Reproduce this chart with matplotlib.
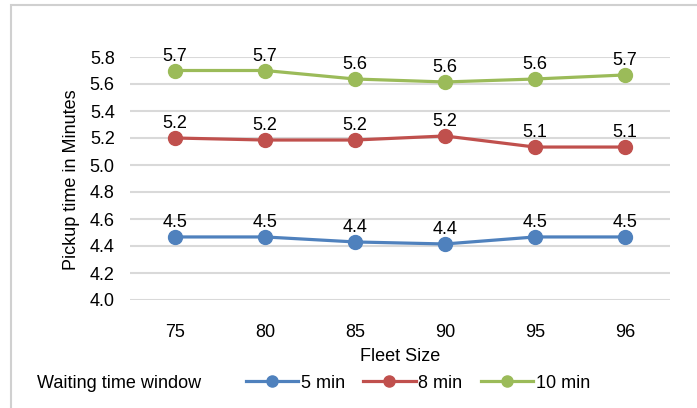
import numpy as np
import matplotlib.pyplot as plt
from matplotlib.patches import Rectangle

plt.rcParams['font.family'] = ['Liberation Sans', 'DejaVu Sans']

# Data
fleet_sizes = ['75', '80', '85', '90', '95', '96']
wait_5 = [4.467, 4.467, 4.430, 4.415, 4.467, 4.467]
wait_8 = [5.200, 5.185, 5.185, 5.215, 5.133, 5.133]
wait_10 = [5.700, 5.700, 5.637, 5.615, 5.637, 5.667]

series = [
    ('5 min', wait_5, '#4F81BD'),
    ('8 min', wait_8, '#C0504D'),
    ('10 min', wait_10, '#9BBB59'),
]

FS = 13

fig = plt.figure(figsize=(6.97, 4.08), dpi=100)
ax = fig.add_axes([130 / 697, 108 / 408, 540 / 697, 243 / 408])

x = np.arange(len(fleet_sizes))
for name, vals, col in series:
    ax.plot(x, vals, color=col, lw=2.3, marker='o', ms=10, label=name, zorder=3)
    for xi, v in zip(x, vals):
        ax.annotate(f'{v:.1f}', (xi, v), xytext=(0, 4), textcoords='offset points',
                    ha='center', va='bottom', fontsize=FS, color='black', zorder=4)

ax.set_xlim(-0.5, len(fleet_sizes) - 0.5)
ax.set_ylim(4.0, 5.8)
ticks = np.arange(4.0, 5.81, 0.2)
ax.set_yticks(ticks)
ax.set_yticklabels([f'{t:.1f}' for t in ticks])
ax.set_xticks(x)
ax.set_xticklabels(fleet_sizes)
ax.tick_params(axis='both', length=0, labelsize=FS)
ax.tick_params(axis='x', pad=17)
ax.tick_params(axis='y', pad=11)
ax.grid(axis='y', color='#D9D9D9', lw=1.5)
ax.set_axisbelow(True)
for s in ax.spines.values():
    s.set_visible(False)

ax.set_xlabel('Fleet Size', fontsize=FS, labelpad=5)
fig.text(72 / 697, 1 - 180 / 408, 'Pickup time in Minutes', rotation=90,
         ha='center', va='center', fontsize=FS)

# legend row with title on the left
fig.text(37 / 697, 1 - 383 / 408, 'Waiting time window', ha='left', va='center', fontsize=FS)
fig.legend(loc='center left', bbox_to_anchor=(246 / 697, 1 - 383 / 408), ncol=3,
           frameon=False, fontsize=FS, handlelength=2.9, handletextpad=0.15,
           columnspacing=1.0, borderaxespad=0, borderpad=0, markerscale=0.8)

# chart border (cropped at right and bottom)
fig.patches.append(Rectangle((11 / 697, -0.1), 1.0, 1 - 5 / 408 + 0.1,
                             transform=fig.transFigure, fill=False,
                             edgecolor='#D0D0D0', lw=1.5))

fig.savefig('out.png', dpi=100)
